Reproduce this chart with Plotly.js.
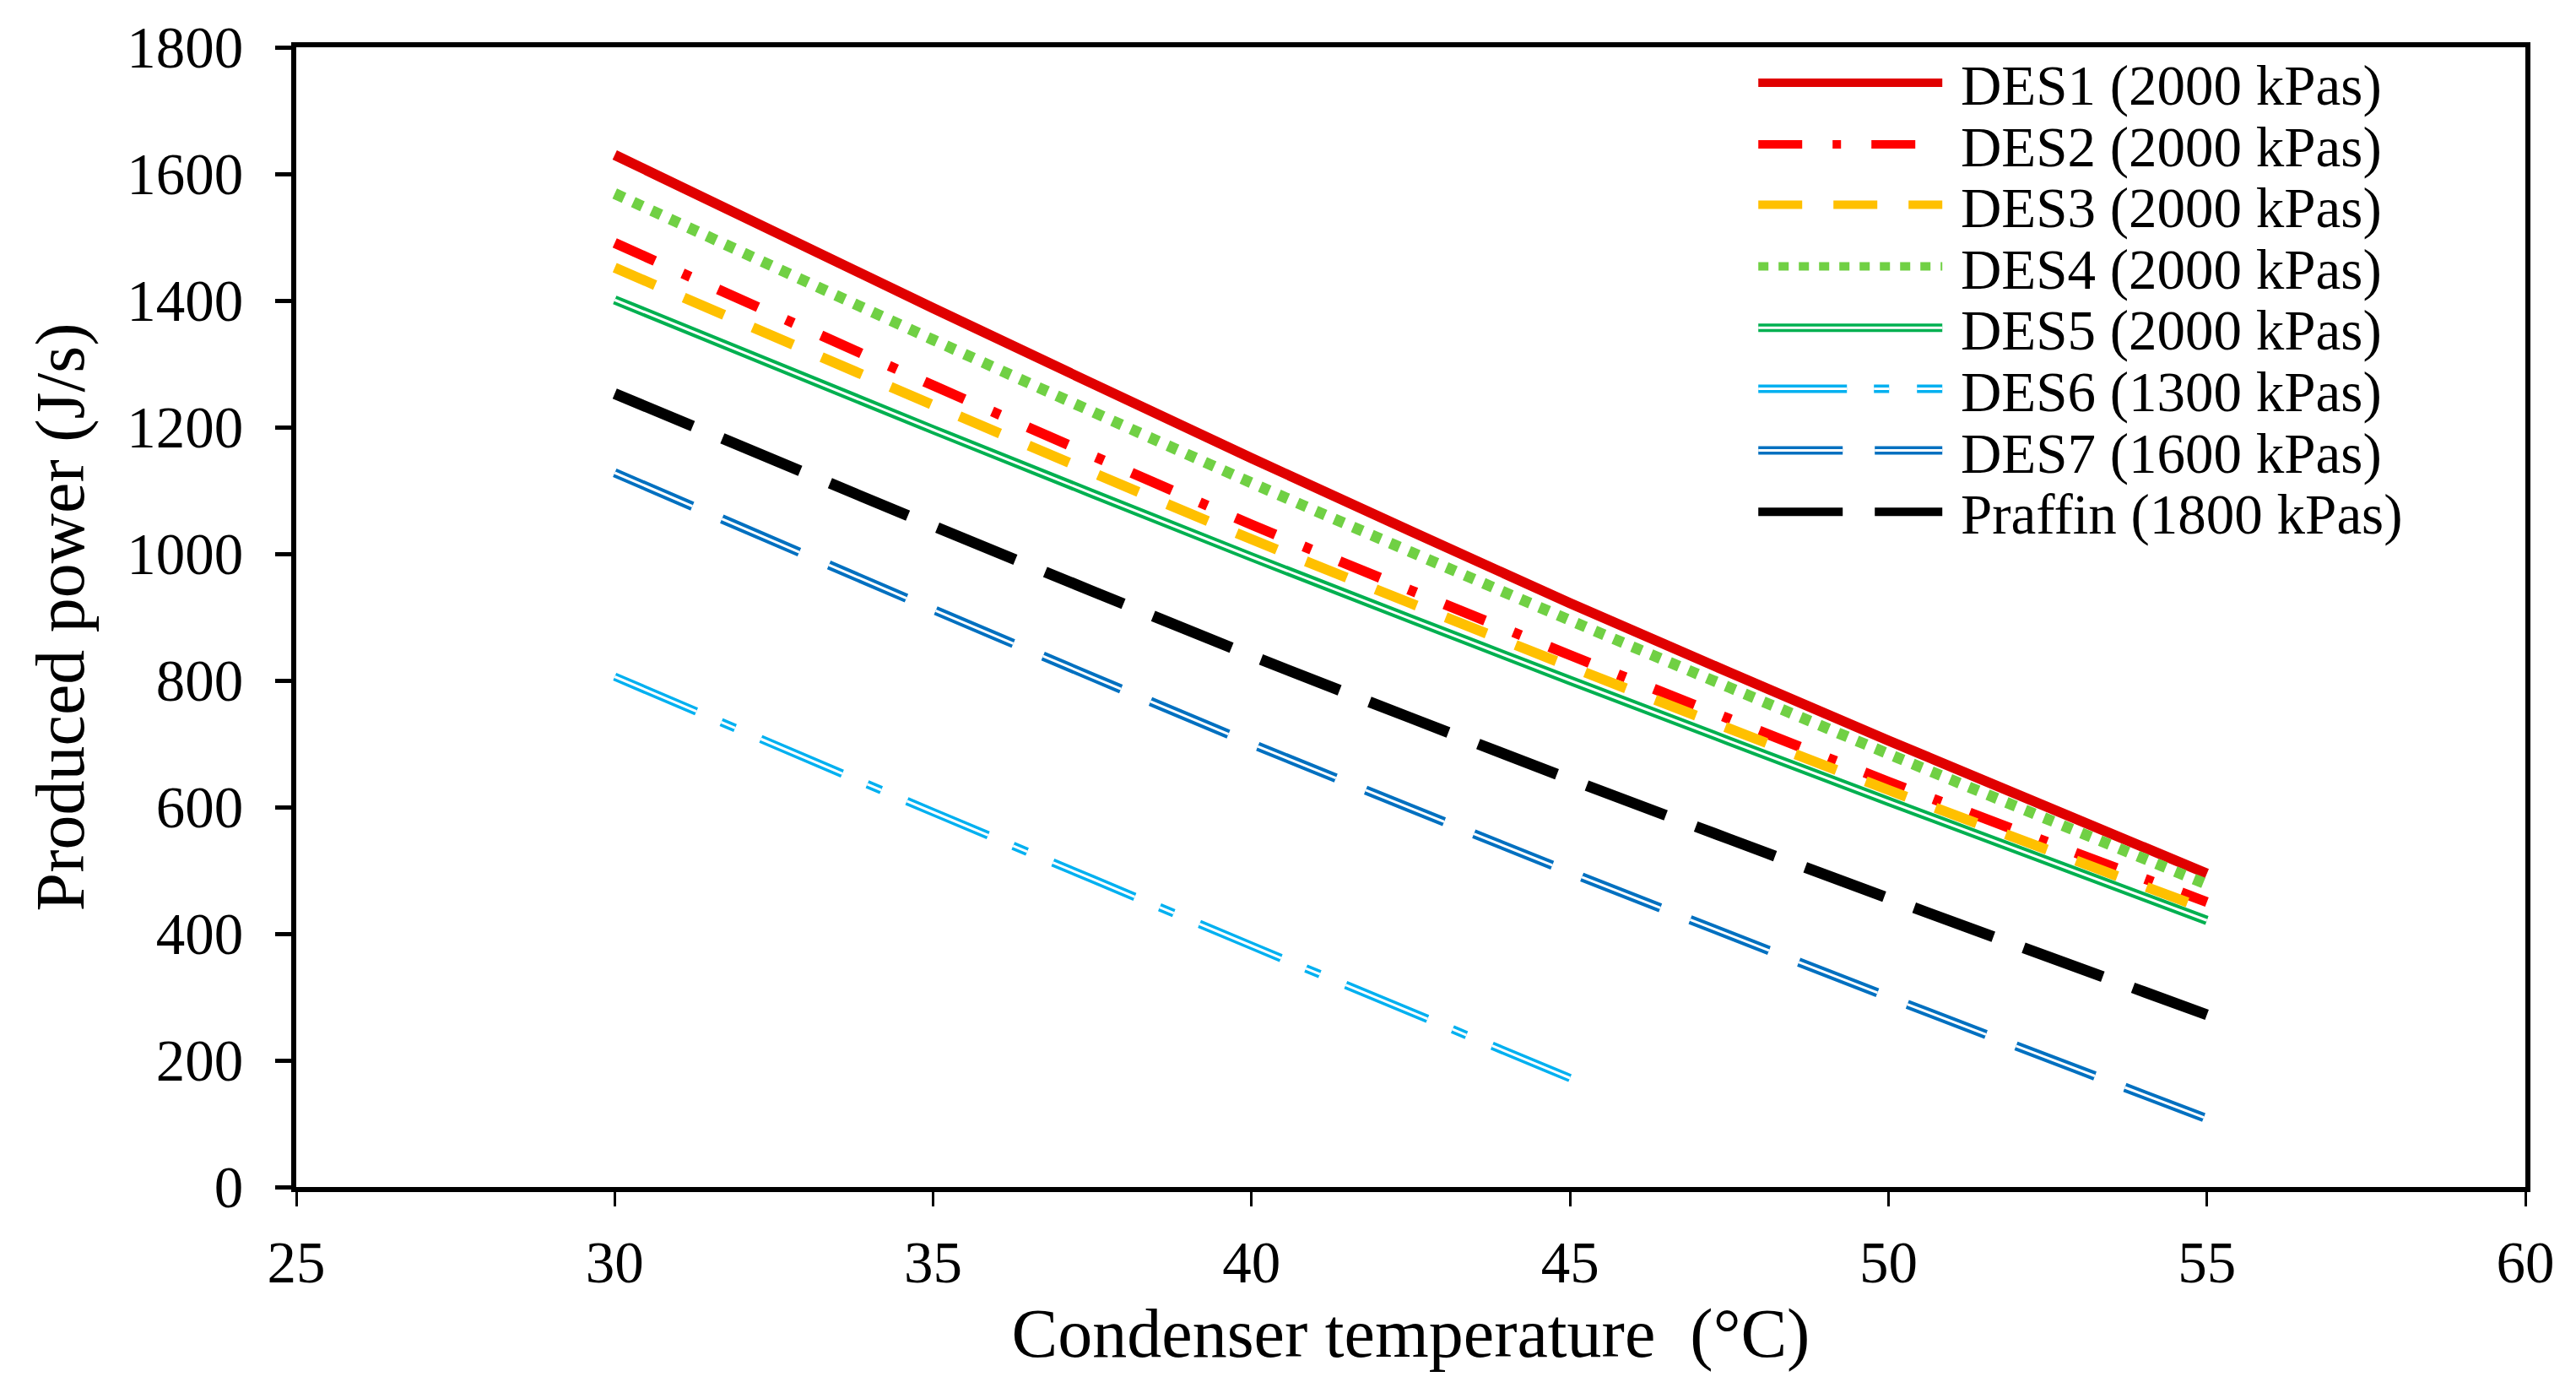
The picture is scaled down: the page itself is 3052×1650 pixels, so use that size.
<!DOCTYPE html>
<html>
<head>
<meta charset="utf-8">
<script src="https://cdn.plot.ly/plotly-3.0.1.min.js"></script>
<style>
  body { margin: 0; background: #fff; }
  #grafico { width: 3052px; height: 1650px; }
</style>
</head>
<body>
<div id="grafico"></div>
<script>
// Condenser temperature (°C)
var temperatura = [30, 35, 40, 45, 50, 55];
var temperaturaDES6 = [30, 35, 40, 45];

// Produced power (J/s)
var des1 = [1630, 1388, 1151, 922, 705, 495];
var des2 = [1491, 1266, 1046, 840, 640, 450];
var des3 = [1452, 1235, 1023, 822, 627, 438];
var des4 = [1569, 1338, 1112, 895, 684, 478];
var des5 = [1401, 1196, 995, 800, 609, 421];
var des6 = [806, 592, 381, 172];
var des7 = [1128, 912, 700, 497, 300, 108];
var praffin = [1253, 1044, 839, 644, 456, 272];

var nombres = ["DES1 (2000 kPas)", "DES2 (2000 kPas)", "DES3 (2000 kPas)", "DES4 (2000 kPas)",
  "DES5 (2000 kPas)", "DES6 (1300 kPas)", "DES7 (1600 kPas)", "Praffin (1800 kPas)"];

var fuente = "Liberation Serif, Times New Roman, serif";

// posicion vertical de cada fila de la leyenda (fraccion del area del grafico)
var filasLeyenda = [0.9685, 0.9145, 0.8615, 0.8075, 0.7535, 0.7000, 0.6460, 0.5920];

function traza(x, y, i, color, ancho, dash, leyenda, oculto) {
  return {
    x: x,
    y: y,
    // espacio duro para separar el texto de la muestra de linea
    name: '\u00a0' + nombres[i],
    type: 'scatter',
    mode: 'lines',
    line: { color: color, width: ancho, dash: dash, shape: 'spline', smoothing: 0.6 },
    legend: leyenda,
    hoverinfo: oculto ? 'skip' : 'x+y+name'
  };
}

function leyenda(fila, transparente) {
  return {
    x: 0.654,
    xanchor: 'left',
    y: filasLeyenda[fila],
    yanchor: 'middle',
    bgcolor: 'rgba(0,0,0,0)',
    borderwidth: 0,
    itemwidth: 218,
    font: { family: fuente, size: 67, color: transparente ? 'rgba(0,0,0,0)' : '#000' }
  };
}

var data = [
  traza(temperatura, des1, 0, '#E00000', 12, 'solid', 'legend'),
  traza(temperatura, des2, 1, '#FF0000', 12, '52px,36px,10px,36px', 'legend2'),
  traza(temperatura, des3, 2, '#FFC000', 12, '52px,37px', 'legend3'),
  traza(temperatura, des4, 3, '#70D044', 13, '12px,12px', 'legend4'),
  traza(temperatura, des5, 4, '#00B050', 11, 'solid', 'legend5'),
  traza(temperatura, des5, 4, '#FFFFFF', 3, 'solid', 'legend9', true),
  traza(temperaturaDES6, des6, 5, '#00B0F0', 10, '105px,32px,18px,33px', 'legend6'),
  traza(temperaturaDES6, des6, 5, '#FFFFFF', 3, '105px,32px,18px,33px', 'legend10', true),
  traza(temperatura, des7, 6, '#0070C0', 11, '100px,38px', 'legend7'),
  traza(temperatura, des7, 6, '#FFFFFF', 3, '100px,38px', 'legend11', true),
  traza(temperatura, praffin, 7, '#000000', 13, '100px,38px', 'legend8')
];

var layout = {
  width: 3052,
  height: 1650,
  paper_bgcolor: '#fff',
  plot_bgcolor: '#fff',
  margin: { l: 351, r: 60, t: 56, b: 244 },
  font: { family: fuente, size: 69, color: '#000' },
  showlegend: true,
  xaxis: {
    range: [25, 60],
    dtick: 5,
    tick0: 25,
    showgrid: false,
    zeroline: false,
    showline: true,
    linecolor: '#000',
    linewidth: 6,
    mirror: true,
    ticks: 'outside',
    ticklen: 17,
    tickwidth: 3,
    tickcolor: '#000',
    ticklabelstandoff: 7,
    tickfont: { family: fuente, size: 69 },
    title: { text: 'Condenser temperature \u00a0(°C)', font: { family: fuente, size: 82 }, standoff: 0 }
  },
  yaxis: {
    range: [0, 1800],
    dtick: 200,
    showgrid: false,
    zeroline: false,
    showline: true,
    linecolor: '#000',
    linewidth: 6,
    mirror: true,
    ticks: 'outside',
    ticklen: 19,
    tickwidth: 5,
    tickcolor: '#000',
    ticklabelstandoff: 24,
    tickfont: { family: fuente, size: 69 },
    title: { text: 'Produced power (J/s)', font: { family: fuente, size: 82 }, standoff: 26 }
  },
  legend: leyenda(0),
  legend2: leyenda(1),
  legend3: leyenda(2),
  legend4: leyenda(3),
  legend5: leyenda(4),
  legend6: leyenda(5),
  legend7: leyenda(6),
  legend8: leyenda(7),
  legend9: leyenda(4, true),
  legend10: leyenda(5, true),
  legend11: leyenda(6, true)
};

Plotly.newPlot('grafico', data, layout, { staticPlot: true });
</script>
</body>
</html>
